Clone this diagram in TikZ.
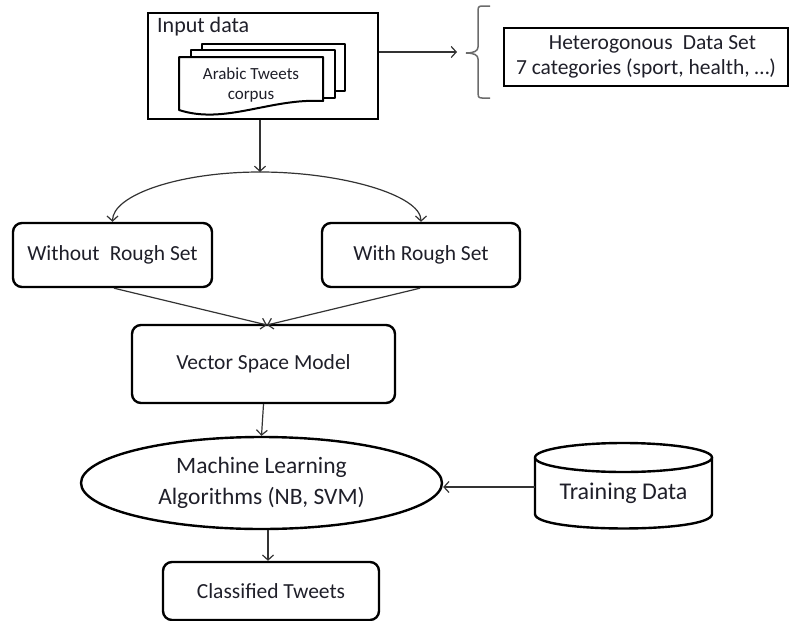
\documentclass[tikz,border=0pt]{standalone}
\usepackage{fontspec}
\setmainfont{Carlito}
\usetikzlibrary{arrows.meta,shapes.geometric}
\definecolor{txt}{rgb}{0.12,0.12,0.16}
\definecolor{linec}{rgb}{0.2,0.2,0.2}
\definecolor{bracec}{rgb}{0.42,0.42,0.42}
\newcommand{\lblfont}{\fontsize{21.5}{26}\selectfont}
\tikzset{
  box/.style={draw, line width=2.4pt, rounded corners=9pt, align=center,
    font=\lblfont, text=txt, inner sep=0pt},
  flat/.style={draw, line width=2.4pt, align=center, font=\lblfont, text=txt, inner sep=0pt},
  page/.style={draw, fill=white, line width=2pt, line join=round},
  flow/.style={draw=linec, line width=1.2pt, -{Straight Barb[length=5pt,width=11pt]}},
}
\begin{document}
\begin{tikzpicture}[x=1pt,y=-1pt]
\useasboundingbox (0,0) rectangle (795,621);

% input frame with a stack of documents
\node[flat, minimum width=230pt, minimum height=106pt] (input) at (263,66) {};
\node[anchor=west, font=\fontsize{22}{26}\selectfont, text=txt, inner sep=0pt] (inlabel) at (157,27) {Input data};
\draw[page] (202,91) -- (202,44) -- (345,44) -- (345,91) -- cycle;
\draw[page] (191,98) -- (191,50) -- (335,50) -- (335,98) -- cycle;
\draw[page] (179,110) -- (179,57) -- (323,57) -- (323,101)
  .. controls (270,98) and (225,125) .. (179,110) -- cycle;
\node[align=center, font=\fontsize{17}{20}\selectfont, text=txt, inner sep=0pt] (corpus) at (251,85)
  {Arabic Tweets\\corpus};

% data set description with brace
\node[flat, line width=2.6pt, minimum width=284pt, minimum height=58pt,
  font=\fontsize{21.5}{25}\selectfont] (het) at (646,57)
  {\hspace{0.6em}Heterogonous\hspace{0.25em} Data Set\\7 categories (sport, health, …)};
\coordinate (bracetip) at (457,52);
\draw[flow] (input.east |- bracetip) -- (bracetip);
\draw[draw=bracec, line width=1.5pt] (490,6) -- (482,6) .. controls (478,6) and (478,8) .. (478,12)
  -- (478,47) .. controls (478,51) and (474,53) .. (466,53)
  .. controls (474,53) and (478,55) .. (478,59)
  -- (478,93) .. controls (478,96) and (478,98) .. (482,98) -- (490,98);

% two branches
\node[box, minimum width=199pt, minimum height=64pt] (wo) at (112.5,255)
  {Without\hspace{0.25em} Rough Set};
\node[box, minimum width=198pt, minimum height=64pt] (with) at (421,255)
  {With Rough Set};
\coordinate (split) at (260,172);
\draw[flow] (split |- input.south) -- (split);
\draw[flow] (split) .. controls (179,172) and (112.5,195) .. (wo.north);
\draw[flow] (split) .. controls (341,172) and (421,195) .. (with.north);

% vector space model
\node[box, minimum width=263pt, minimum height=78pt] (vsm) at (263.5,364)
  {Vector Space Model};
\coordinate (vsmtop) at (267,325);
\draw[flow] ([xshift=1.5pt]wo.south) -- (vsmtop);
\draw[flow] ([xshift=-1pt]with.south) -- (vsmtop);

% learning stage
\node[ellipse, draw, line width=2.4pt, minimum width=361pt, minimum height=92pt,
  inner sep=0pt, align=center, font=\fontsize{23.5}{31}\selectfont, text=txt] (ml) at (261.5,483)
  {Machine Learning\\Algorithms (NB, SVM)};
\draw[flow] (vsm.south) -- (ml.north);

% training data cylinder
\draw[line width=2.4pt, fill=white] (535,457.5) -- (535,514)
  .. controls (535,533.3) and (712,533.3) .. (712,514) -- (712,457.5);
\draw[line width=2.4pt] (623.5,457.5) ellipse [x radius=88.5pt, y radius=14.5pt];
\node[minimum width=177pt, inner sep=0pt, font=\fontsize{24}{28}\selectfont, text=txt] (train)
  at (623.5,493) {Training Data};
\coordinate (trainin) at ([yshift=6pt]train.west);
\draw[flow] (trainin) -- (ml.east |- trainin);

% result
\node[box, minimum width=216pt, minimum height=58pt] (cls) at (271,591)
  {Classified Tweets};
\draw[flow] ([xshift=-3pt]cls.north |- ml.south) -- ([xshift=-3pt]cls.north);
\end{tikzpicture}
\end{document}
